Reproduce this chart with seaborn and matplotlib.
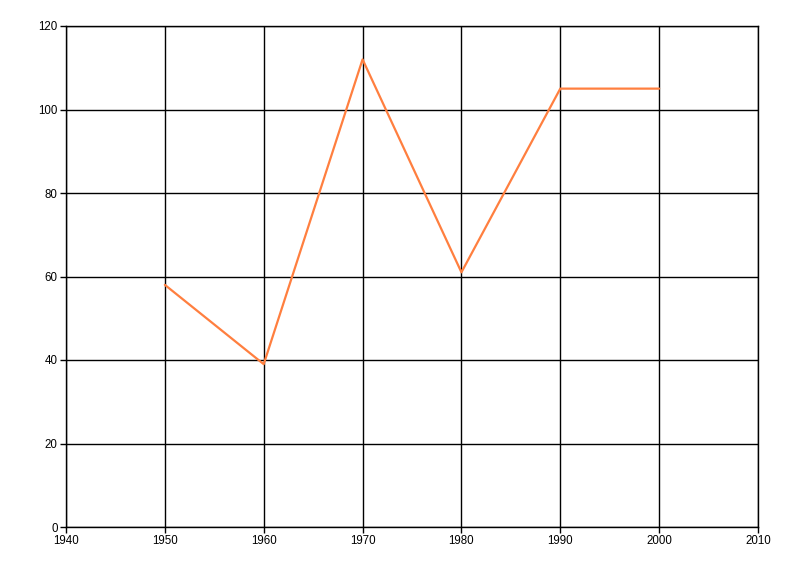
import matplotlib
matplotlib.use("Agg")
import matplotlib.pyplot as plt
import seaborn as sns
import pandas as pd

years = [1950, 1960, 1970, 1980, 1990, 2000]
values = [58, 39, 112, 61, 105, 105]
x_ticks = [1940, 1950, 1960, 1970, 1980, 1990, 2000, 2010]
y_ticks = [0, 20, 40, 60, 80, 100, 120]

sns.set_style("white")
plt.rcParams['font.family'] = ['Liberation Sans', 'DejaVu Sans']

fig = plt.figure(figsize=(8, 5.76), dpi=100)
ax = fig.add_axes([66/800, 1-527/576, (758-66)/800, (527-26)/576])

df = pd.DataFrame({"year": years, "value": values})
sns.lineplot(data=df, x="year", y="value", ax=ax, color="#FF7F3F", linewidth=1.6)

ax.set_xlim(1940, 2010)
ax.set_ylim(0, 120)
ax.set_xticks(x_ticks)
ax.set_yticks(y_ticks)
ax.set_xlabel("")
ax.set_ylabel("")
ax.grid(True, color="black", linewidth=1)
ax.set_axisbelow(True)
for s in ["left", "bottom", "top", "right"]:
    ax.spines[s].set_visible(True)
    ax.spines[s].set_color("black")
    ax.spines[s].set_linewidth(1)
ax.tick_params(axis="both", direction="out", length=4, width=1, color="black",
               labelsize=8.3, pad=2, labelcolor="black")
ax.tick_params(axis="both", which="both", bottom=True, left=True, top=False, right=False)

fig.savefig("out.png", dpi=100)
